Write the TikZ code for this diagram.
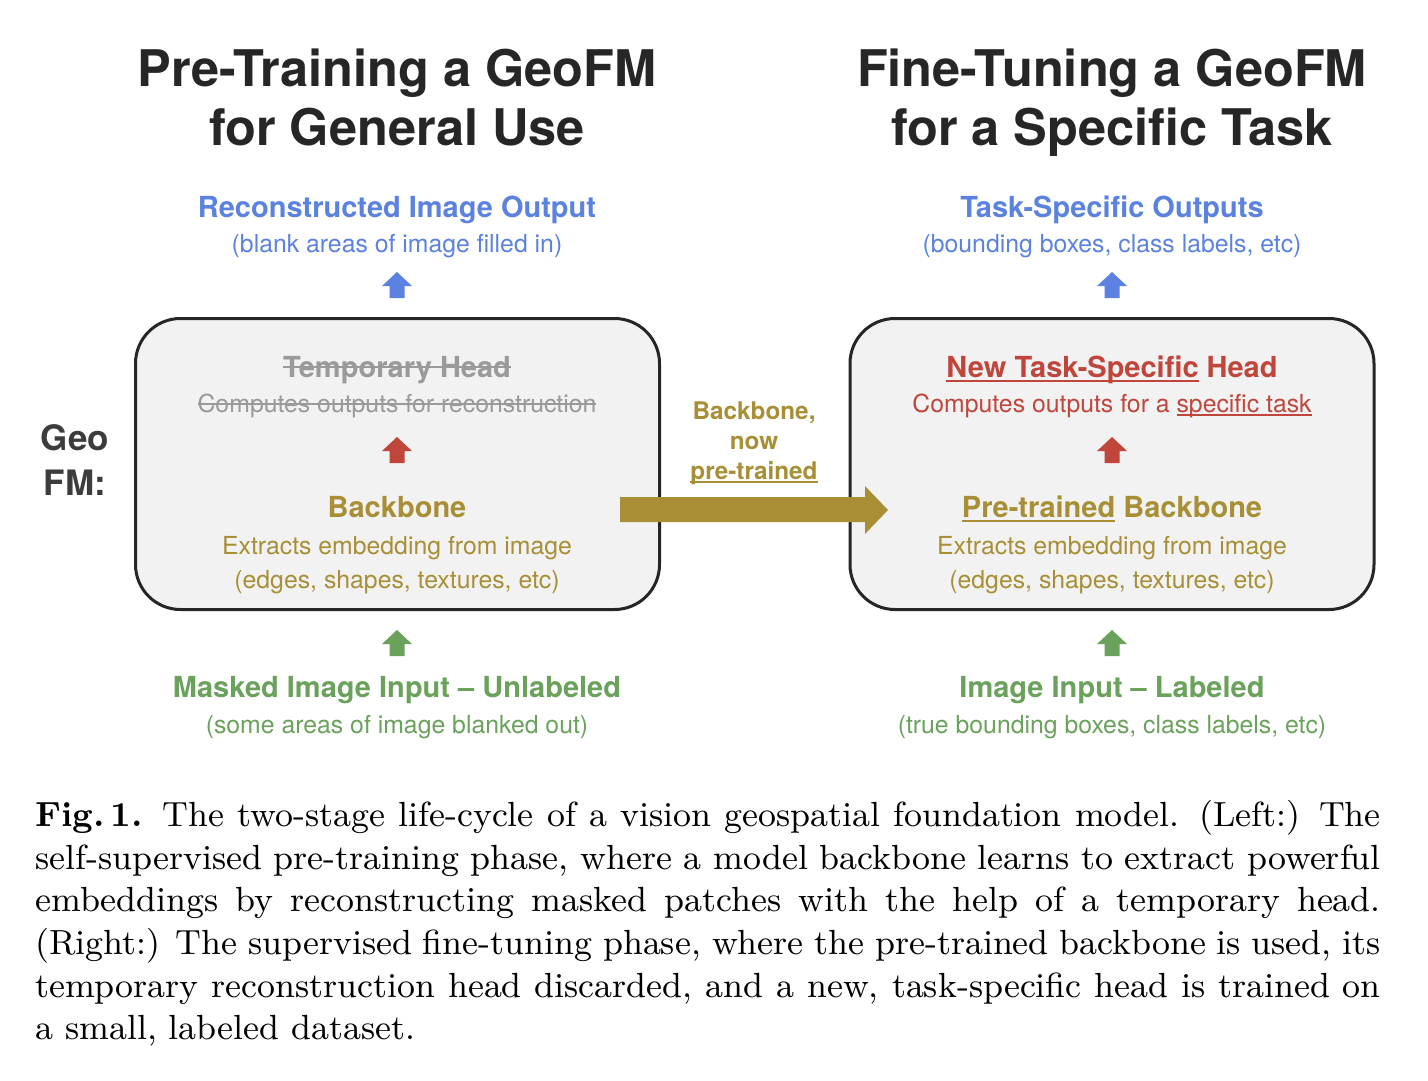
\documentclass[tikz,border=0pt]{standalone}
\usepackage{fontspec}
\newfontfamily\hv{TeX Gyre Heros}
\usepackage{graphicx}
\newlength\myulw
\newcommand\myul[1]{\settowidth\myulw{#1}\rlap{\rule[-0.17em]{\myulw}{0.075em}}#1}
\newcommand\mystrike[1]{\settowidth\myulw{#1}\rlap{\rule[0.3em]{\myulw}{0.07em}}#1}
\definecolor{titlec}{HTML}{262626}
\definecolor{bluec}{HTML}{5B82E0}
\definecolor{redc}{HTML}{C0463C}
\definecolor{goldc}{HTML}{A88F36}
\definecolor{greenc}{HTML}{6AA25C}
\definecolor{grayc}{HTML}{9A9A9A}
\definecolor{boxfill}{HTML}{F2F2F2}
\definecolor{boxline}{HTML}{262626}
\tikzset{
 hd/.style={font=\hv\bfseries\fontsize{29}{34}\selectfont, anchor=base, inner sep=0pt},
 sb/.style={font=\hv\fontsize{24.8}{30}\selectfont, anchor=base, inner sep=0pt},
 mid/.style={font=\hv\bfseries\fontsize{24.3}{30}\selectfont, anchor=base, inner sep=0pt, text=goldc},
 ttl/.style={font=\hv\bfseries\fontsize{50.5}{59}\selectfont, anchor=base, inner sep=0pt, text=titlec},
 geo/.style={font=\hv\bfseries\fontsize{35}{42}\selectfont, anchor=base, inner sep=0pt, text=titlec!90!white},
 panel/.style={draw=boxline, line width=3pt, fill=boxfill, rounded corners=45pt, minimum width=524pt, minimum height=291pt, inner sep=0pt},
 uparr/.pic={\fill[#1] (0,-14) -- (15,0) -- (7.5,0) -- (7.5,12) -- (-7.5,12) -- (-7.5,0) -- (-15,0) -- cycle;}
}
\begin{document}
\begin{tikzpicture}[x=1pt,y=-1pt]
\useasboundingbox (0,0) rectangle (1428,1080);
\fill[white] (0,0) rectangle (1428,1080);
% titles
\node[ttl] (t1a) at (397,86) {Pre-Training a GeoFM};
\node[ttl] (t1b) at (397,145) {for General Use};
\node[ttl] (t2a) at (1112,86) {Fine-Tuning a GeoFM};
\node[ttl] (t2b) at (1112,145) {for a Specific Task};
% panels
\node[panel] (lbox) at (397.5,464) {};
\node[panel] (rbox) at (1112,464) {};
% Geo FM
\node[geo] (geo1) at (75,450) {Geo};
\node[geo] (geo2) at (75,495) {FM:};
% left column
\node[hd, text=bluec] (lout) at (397,217) {Reconstructed Image Output};
\node[sb, text=bluec] (loutsub) at (397,252) {(blank areas of image filled in)};
\pic at (397,286) {uparr=bluec};
\node[hd, text=grayc] (lhead) at (397,377) {\mystrike{Temporary Head}};
\node[sb, text=grayc] (lheadsub) at (397,412) {\mystrike{Computes outputs for reconstruction}};
\pic at (397,451) {uparr=redc};
\node[hd, text=goldc] (lbb) at (397,517) {Backbone};
\node[sb, text=goldc] (lbbsub1) at (397,554) {Extracts embedding from image};
\node[sb, text=goldc] (lbbsub2) at (397,588) {(edges, shapes, textures, etc)};
\pic at (397,644) {uparr=greenc};
\node[hd, text=greenc] (lin) at (397,697) {Masked Image Input – Unlabeled};
\node[sb, text=greenc] (linsub) at (397,733) {(some areas of image blanked out)};
% right column
\node[hd, text=bluec] (rout) at (1112,217) {Task-Specific Outputs};
\node[sb, text=bluec] (routsub) at (1112,252) {(bounding boxes, class labels, etc)};
\pic at (1112,286) {uparr=bluec};
\node[hd, text=redc] (rhead) at (1112,377) {\myul{New Task-Specific} Head};
\node[sb, text=redc] (rheadsub) at (1112,412) {Computes outputs for a \myul{specific task}};
\pic at (1112,451) {uparr=redc};
\node[hd, text=goldc] (rbb) at (1112,517) {\myul{Pre-trained} Backbone};
\node[sb, text=goldc] (rbbsub1) at (1112,554) {Extracts embedding from image};
\node[sb, text=goldc] (rbbsub2) at (1112,588) {(edges, shapes, textures, etc)};
\pic at (1112,644) {uparr=greenc};
\node[hd, text=greenc] (rin) at (1112,697) {Image Input – Labeled};
\node[sb, text=greenc] (rinsub) at (1112,733) {(true bounding boxes, class labels, etc)};
% middle
\node[mid] (m1) at (754,419) {Backbone,};
\node[mid] (m2) at (754,449) {now};
\node[mid] (m3) at (754,479) {\myul{pre-trained}};
\fill[goldc] (620,497) -- (865,497) -- (865,486) -- (888,510) -- (865,534) -- (865,522) -- (620,522) -- cycle;
% caption
\node[anchor=north west, inner sep=0pt] (cap) at (35,800) {\scalebox{3.878}{\parbox{347pt}{\small\textbf{Fig.\,1.} The two-stage life-cycle of a vision geospatial foundation model. (Left:) The\linebreak self-supervised pre-training phase, where a model backbone learns to extract powerful\linebreak embeddings by reconstructing masked patches with the help of a temporary head.\linebreak (Right:) The supervised fine-tuning phase, where the pre-trained backbone is used, its\linebreak temporary reconstruction head discarded, and a new, task-specific head is trained on\linebreak a small, labeled dataset.}}};
\end{tikzpicture}
\end{document}
